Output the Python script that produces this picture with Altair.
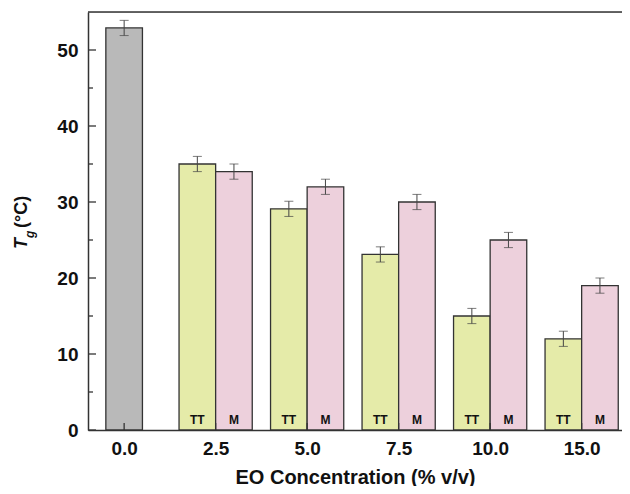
import altair as alt
import pandas as pd

# ---- data ----
concentrations = ["0.0", "2.5", "5.0", "7.5", "10.0", "15.0"]
control_tg = [52.9]
control_err = [1.0]
tt_tg = [35.0, 29.1, 23.1, 15.0, 12.0]
tt_err = [1.0, 1.0, 1.0, 1.0, 1.0]
m_tg = [34.0, 32.0, 30.0, 25.0, 19.0]
m_err = [1.0, 1.0, 1.0, 1.0, 1.0]
series_names = ["Control", "TT", "M"]
series_colors = ["#b9b9b9", "#e5eba9", "#edd0dc"]
y_major_ticks = [0, 10, 20, 30, 40, 50]
y_minor_ticks = [5, 15, 25, 35, 45]
x_title = "EO Concentration (% v/v)"
y_title_main = "T"
y_title_sub = "g"
y_title_unit = "(°C)"

BW = 0.4  # bar width in category units
rows = []
rows.append(dict(group="Control", label="", x0=0 - BW / 2, x1=0 + BW / 2, c=0,
                 v=control_tg[0], lo=control_tg[0] - control_err[0], hi=control_tg[0] + control_err[0]))
for i in range(len(tt_tg)):
    p = i + 1
    rows.append(dict(group="TT", label="TT", x0=p - BW, x1=p, c=p - BW / 2,
                     v=tt_tg[i], lo=tt_tg[i] - tt_err[i], hi=tt_tg[i] + tt_err[i]))
    rows.append(dict(group="M", label="M", x0=p, x1=p + BW, c=p + BW / 2,
                     v=m_tg[i], lo=m_tg[i] - m_err[i], hi=m_tg[i] + m_err[i]))
df = pd.DataFrame(rows)

W, H = 534, 418
PAD = {"left": 80, "top": 4, "right": 0, "bottom": 56}
FONT = "Liberation Sans"
DARK = "#333333"
TXT = "#111111"

xscale = alt.Scale(domain=[-0.395, 5.441], nice=False, zero=False)
yscale = alt.Scale(domain=[0, 55], nice=False)
label_js = "[" + ",".join("'%s'" % c for c in concentrations) + "][datum.value]"
x_axis = alt.Axis(values=list(range(len(concentrations))), labelExpr=label_js, ticks=False,
                  grid=False, domainColor=DARK, domainWidth=1.5, labelFont=FONT,
                  labelFontSize=19, labelFontWeight="bold", labelColor=TXT,
                  labelPadding=9, title=x_title, titleFont=FONT, titleFontSize=20,
                  titleFontWeight="bold", titleColor=TXT, titlePadding=9)
y_axis = alt.Axis(values=y_major_ticks, ticks=False, grid=False, domainColor=DARK,
                  domainWidth=1.5, labelFont=FONT, labelFontSize=19,
                  labelFontWeight="bold", labelColor=TXT, labelPadding=10, title=None)

color = alt.Color("group:N", scale=alt.Scale(domain=series_names, range=series_colors), legend=None)

bars = alt.Chart(df).mark_bar(stroke=DARK, strokeWidth=1.3).encode(
    x=alt.X("x0:Q", scale=xscale, axis=x_axis, title=x_title),
    x2="x1:Q",
    y=alt.Y("v:Q", scale=yscale, axis=y_axis, title=None),
    y2=alt.datum(0),
    color=color,
)

err = alt.Chart(df).mark_rule(color="#444", strokeWidth=1).encode(
    x=alt.X("c:Q", scale=xscale, axis=x_axis, title=x_title),
    y=alt.Y("lo:Q", scale=yscale, axis=y_axis, title=None),
    y2="hi:Q",
)
cap_lo = alt.Chart(df).mark_tick(color="#444", orient="horizontal", size=9, thickness=1).encode(
    x=alt.X("c:Q", scale=xscale, axis=x_axis, title=x_title),
    y=alt.Y("lo:Q", scale=yscale, axis=y_axis, title=None),
)
cap_hi = alt.Chart(df).mark_tick(color="#444", orient="horizontal", size=9, thickness=1).encode(
    x=alt.X("c:Q", scale=xscale, axis=x_axis, title=x_title),
    y=alt.Y("hi:Q", scale=yscale, axis=y_axis, title=None),
)

labels = alt.Chart(df[df["label"] != ""]).mark_text(
    font=FONT, fontSize=12, fontWeight="bold", color=TXT, baseline="middle"
).encode(
    x=alt.X("c:Q", scale=xscale, axis=x_axis, title=x_title),
    y=alt.value(H - 10),
    text="label:N",
)

yt_major = alt.Chart(pd.DataFrame({"v": y_major_ticks})).mark_rule(color=DARK, strokeWidth=1.3).encode(
    y=alt.Y("v:Q", scale=yscale, axis=y_axis, title=None), x=alt.value(0), x2=alt.value(8))
yt_minor = alt.Chart(pd.DataFrame({"v": y_minor_ticks})).mark_rule(color=DARK, strokeWidth=1.3).encode(
    y=alt.Y("v:Q", scale=yscale, axis=y_axis, title=None), x=alt.value(0), x2=alt.value(5))

xt = alt.Chart(pd.DataFrame({"p": list(range(len(concentrations)))})).mark_rule(
    color=DARK, strokeWidth=1.3).encode(
    x=alt.X("p:Q", scale=xscale, axis=x_axis, title=x_title), y=alt.value(H), y2=alt.value(H - 7))

top_line = alt.Chart(pd.DataFrame({"a": [0]})).mark_rule(color=DARK, strokeWidth=1.5).encode(
    x=alt.value(0), x2=alt.value(W), y=alt.value(0))

t_main = alt.Chart(pd.DataFrame({"t": [y_title_main]})).mark_text(
    font=FONT, fontSize=18, fontWeight="bold", fontStyle="italic", angle=270,
    align="left", baseline="alphabetic", color=TXT).encode(
    x=alt.value(-61), y=alt.value(237), text="t:N")
t_sub = alt.Chart(pd.DataFrame({"t": [y_title_sub]})).mark_text(
    font=FONT, fontSize=12, fontWeight="bold", fontStyle="italic", angle=270,
    align="left", baseline="alphabetic", color=TXT).encode(
    x=alt.value(-54), y=alt.value(226), text="t:N")
t_unit = alt.Chart(pd.DataFrame({"t": [y_title_unit]})).mark_text(
    font=FONT, fontSize=18, fontWeight="bold", angle=270,
    align="left", baseline="alphabetic", color=TXT).encode(
    x=alt.value(-61), y=alt.value(216), text="t:N")

chart = alt.layer(
    bars, err, cap_lo, cap_hi, labels, yt_major, yt_minor, xt, top_line, t_main, t_sub, t_unit
).properties(
    width=W, height=H,
    padding=PAD,
    autosize=alt.AutoSizeParams(type="none"),
).configure_view(stroke=None).configure(background="white")

chart.save("out.html", embed_options={"renderer": "svg", "actions": False})
